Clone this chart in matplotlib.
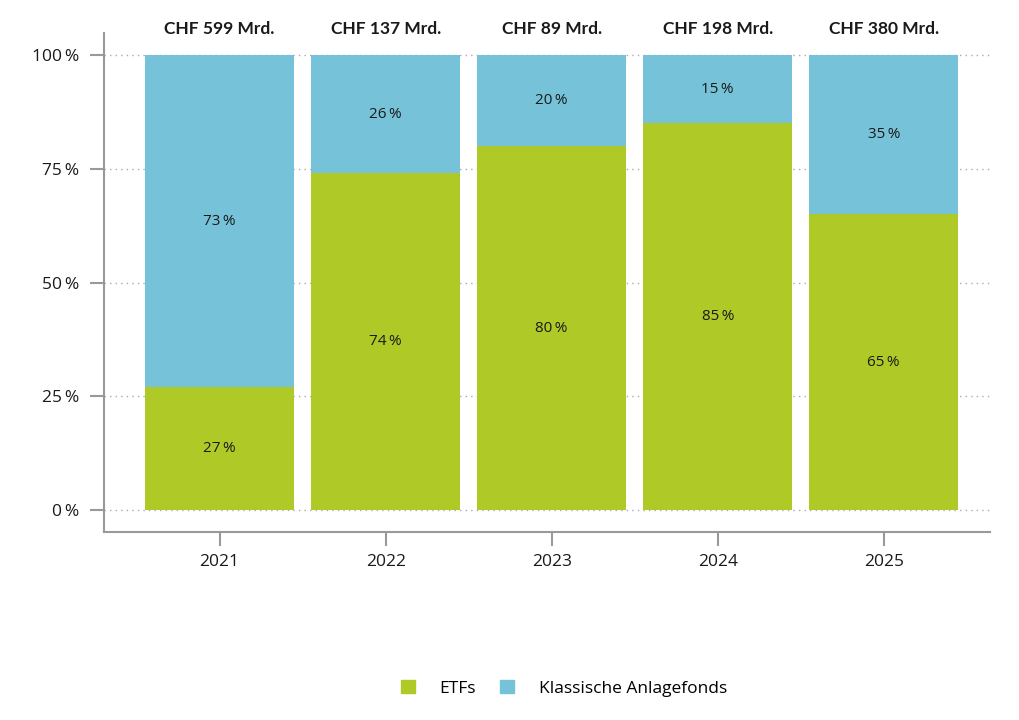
import matplotlib.pyplot as plt
import numpy as np
from matplotlib.patches import Patch

years = ['2021', '2022', '2023', '2024', '2025']
totals = ['CHF 599 Mrd.', 'CHF 137 Mrd.', 'CHF 89 Mrd.', 'CHF 198 Mrd.', 'CHF 380 Mrd.']
etfs = [27, 74, 80, 85, 65]
klassisch = [73, 26, 20, 15, 35]

green = '#afca26'
blue = '#76c3d9'

plt.rcParams['font.family'] = ['Open Sans', 'DejaVu Sans']

fig = plt.figure(figsize=(10.2, 7.2), dpi=100)
ax = fig.add_axes([0.102, 0.261, 0.8686, 0.693])

x = np.arange(len(years))
ax.bar(x, etfs, width=0.9, color=green, zorder=2)
ax.bar(x, klassisch, width=0.9, bottom=etfs, color=blue, zorder=2)

for i in x:
    ax.text(i, etfs[i] / 2, f'{etfs[i]}\u2009%', ha='center', va='center', fontsize=11, color='#1a1a1a', zorder=3)
    ax.text(i, etfs[i] + klassisch[i] / 2, f'{klassisch[i]}\u2009%', ha='center', va='center',
            fontsize=11, color='#1a1a1a', zorder=3)
    ax.text(i, 105.6, totals[i], ha='center', va='center', fontsize=12.5, fontweight='bold',
            family=['Lato', 'DejaVu Sans'], color='#1a1a1a', clip_on=False)

ax.set_xlim(-0.696, 4.64)
ax.set_ylim(-4.8, 104.8)
ax.set_xticks(x)
ax.set_xticklabels(years)
ax.set_yticks([0, 25, 50, 75, 100])
ax.set_yticklabels(['0\u2009%', '25\u2009%', '50\u2009%', '75\u2009%', '100\u2009%'])
ax.yaxis.grid(True, linestyle=(0, (1, 3)), color='#aaaaaa', linewidth=1, zorder=1)

for s in ['top', 'right']:
    ax.spines[s].set_visible(False)
for s in ['left', 'bottom']:
    ax.spines[s].set_color('#999999')
    ax.spines[s].set_linewidth(1.5)
ax.tick_params(axis='both', colors='#999999', labelcolor='#1a1a1a', labelsize=12.5, width=1.5, length=10)
ax.tick_params(axis='y', pad=8)
ax.tick_params(axis='x', pad=6)

handles = [Patch(color=green, label='ETFs'), Patch(color=blue, label='Klassische Anlagefonds')]
fig.legend(handles=handles, loc='center', bbox_to_anchor=(0.553, 0.044), ncol=2, frameon=False,
           fontsize=12.5, handlelength=0.8, handleheight=0.8, handletextpad=1.4, columnspacing=1.4)

fig.savefig('out.png', dpi=100)
